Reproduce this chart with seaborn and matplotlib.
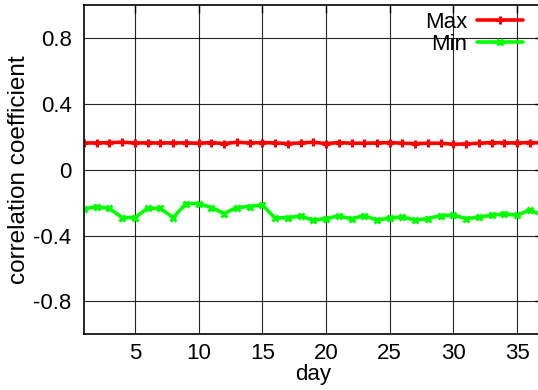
import pandas as pd
import seaborn as sns
import matplotlib.pyplot as plt

sns.set_theme(style="white")
plt.rcParams["font.family"] = ["Liberation Sans", "DejaVu Sans"]
plt.rcParams["text.color"] = "black"
plt.rcParams["axes.labelcolor"] = "black"

# -------------------------------
# DATA
# -------------------------------
days = list(range(1, 38))

max_corr = [0.162, 0.162, 0.164, 0.166, 0.162, 0.162, 0.162, 0.162, 0.162, 0.160,
            0.164, 0.158, 0.166, 0.162, 0.164, 0.162, 0.158, 0.162, 0.166, 0.158,
            0.164, 0.160, 0.160, 0.162, 0.164, 0.160, 0.158, 0.160, 0.160, 0.154,
            0.156, 0.160, 0.164, 0.162, 0.162, 0.164, 0.162]

min_corr = [-0.240, -0.224, -0.236, -0.291, -0.291, -0.234, -0.236, -0.291, -0.206, -0.206,
            -0.230, -0.267, -0.230, -0.224, -0.214, -0.295, -0.291, -0.283, -0.307, -0.297,
            -0.281, -0.299, -0.279, -0.307, -0.293, -0.287, -0.307, -0.297, -0.279, -0.277,
            -0.297, -0.289, -0.277, -0.268, -0.277, -0.244, -0.280]

df = pd.DataFrame({"day": days, "Max": max_corr, "Min": min_corr})

FS = 16

# -------------------------------
# PLOT
# -------------------------------
fig = plt.figure(figsize=(5.38, 3.9), dpi=100)
ax = fig.add_axes([84 / 538, 1 - 334.4 / 390, (542.6 - 84) / 538, (334.4 - 4.8) / 390])

ax.grid(True, color="black", linewidth=0.8, alpha=0.85)
ax.set_axisbelow(True)

sns.lineplot(data=df, x="day", y="Max", color="#ff0000", marker="+",
             linewidth=2.6, markersize=6, markeredgewidth=2.2,
             markeredgecolor="#ff0000", label="Max", ax=ax)
sns.lineplot(data=df, x="day", y="Min", color="#00ff00", marker="x",
             linewidth=2.6, markersize=5, markeredgewidth=2.2,
             markeredgecolor="#00ff00", label="Min", ax=ax)

ax.set_xlim(1, 37)
ax.set_ylim(-1, 1)
ax.set_xticks([5, 10, 15, 20, 25, 30, 35])
ax.set_yticks([-0.8, -0.4, 0, 0.4, 0.8])
ax.set_yticklabels(["-0.8", "-0.4", "0", "0.4", "0.8"])

ax.tick_params(direction="in", length=6, width=1, top=True, right=True,
               labelsize=FS, colors="black")
ax.tick_params(axis="x", pad=6.5)
ax.tick_params(axis="y", pad=9)
for s in ax.spines.values():
    s.set_color("black")
    s.set_linewidth(1.2)

ax.set_xlabel("day", fontsize=FS, labelpad=0)
ax.set_ylabel("correlation coefficient", fontsize=17.5, labelpad=2)

# gnuplot-like key: text first, then the line sample
ax.legend(loc="upper right", bbox_to_anchor=(0.957, 0.978),
          frameon=False, markerfirst=False, fontsize=FS, handlelength=2.05,
          labelspacing=0.05, borderaxespad=0, borderpad=0, handletextpad=0.45)

fig.savefig("out.png", dpi=100)
